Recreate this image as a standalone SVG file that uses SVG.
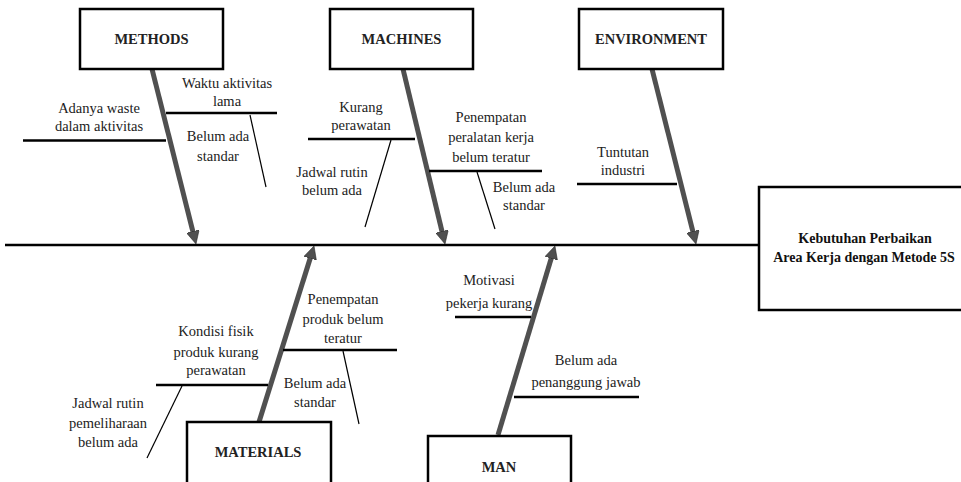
<svg xmlns="http://www.w3.org/2000/svg" width="961" height="482" viewBox="0 0 961 482">
<defs>
<style>
.box{fill:#fff;stroke:#000;stroke-width:2.5}
text{font-family:'Liberation Serif','Times New Roman','DejaVu Serif',serif}
.bt{font-weight:bold;font-size:14.5px;text-anchor:middle;fill:#222}
.lt{font-size:14.5px;text-anchor:middle;fill:#222}
.et{font-weight:bold;font-size:14px;text-anchor:middle;fill:#111}
.br{stroke:#000;stroke-width:2.5;fill:none}
.sb{stroke:#000;stroke-width:1.2;fill:none}
.arr{stroke:#505050;stroke-width:5;fill:none;marker-end:url(#ah)}
</style>
<marker id="ah" viewBox="0 0 10 10" refX="4" refY="5" markerWidth="2.6" markerHeight="2.6" orient="auto" markerUnits="strokeWidth">
<path d="M0,0 L10,5 L0,10 z" fill="#505050" stroke="#222" stroke-width="0.4"/>
</marker>
</defs>
<rect width="961" height="482" fill="#fff"/>
<g id="connectors">
<line x1="5" y1="245" x2="759" y2="245" class="br"/>
<line x1="152" y1="69" x2="194.1" y2="236.4" class="arr"/>
<line x1="403" y1="69" x2="443.2" y2="236.4" class="arr"/>
<line x1="652" y1="69" x2="694.1" y2="236.4" class="arr"/>
<line x1="259" y1="422" x2="311.7" y2="253.4" class="arr"/>
<line x1="498" y1="435" x2="552.7" y2="253.5" class="arr"/>
<line x1="23" y1="140.5" x2="166" y2="140.5" class="br"/>
<line x1="166" y1="113" x2="277" y2="113" class="br"/>
<line x1="250" y1="115" x2="266" y2="187" class="sb"/>
<line x1="308" y1="139" x2="415" y2="139" class="br"/>
<line x1="391" y1="140" x2="365" y2="227" class="sb"/>
<line x1="429" y1="171" x2="542" y2="171" class="br"/>
<line x1="477" y1="172" x2="495" y2="229" class="sb"/>
<line x1="577" y1="184" x2="677" y2="184" class="br"/>
<line x1="156" y1="385" x2="268" y2="385" class="br"/>
<line x1="182" y1="386" x2="147" y2="458" class="sb"/>
<line x1="283" y1="350" x2="397" y2="350" class="br"/>
<line x1="343" y1="351" x2="359" y2="424" class="sb"/>
<line x1="455" y1="317" x2="531" y2="317" class="br"/>
<line x1="514" y1="397" x2="639" y2="397" class="br"/>
</g>
<g id="methods"><rect class="box" x="80" y="9" width="143" height="60"/><text class="bt" x="151.5" y="44">METHODS</text></g>
<g id="machines"><rect class="box" x="330" y="9" width="143" height="60"/><text class="bt" x="401.5" y="44">MACHINES</text></g>
<g id="environment"><rect class="box" x="579" y="9" width="144" height="60"/><text class="bt" x="651" y="44">ENVIRONMENT</text></g>
<g id="materials"><rect class="box" x="187" y="422" width="144" height="70"/><text class="bt" x="258" y="457">MATERIALS</text></g>
<g id="man"><rect class="box" x="428" y="436" width="143" height="56"/><text class="bt" x="499" y="472">MAN</text></g>
<g id="effect"><rect class="box" x="759" y="187" width="220" height="123"/><text class="et" x="865" y="243">Kebutuhan Perbaikan</text><text class="et" x="864" y="262">Area Kerja dengan Metode 5S</text></g>
<g id="labels">
<text class="lt" x="99" y="113">Adanya waste</text>
<text class="lt" x="99" y="131">dalam aktivitas</text>
<text class="lt" x="227" y="88">Waktu aktivitas</text>
<text class="lt" x="227" y="106">lama</text>
<text class="lt" x="218" y="141">Belum ada</text>
<text class="lt" x="218" y="161">standar</text>
<text class="lt" x="361" y="112">Kurang</text>
<text class="lt" x="361" y="130">perawatan</text>
<text class="lt" x="332" y="177">Jadwal rutin</text>
<text class="lt" x="332" y="195">belum ada</text>
<text class="lt" x="491" y="122">Penempatan</text>
<text class="lt" x="491" y="142">peralatan kerja</text>
<text class="lt" x="491" y="162">belum teratur</text>
<text class="lt" x="524" y="192">Belum ada</text>
<text class="lt" x="524" y="210">standar</text>
<text class="lt" x="623" y="157">Tuntutan</text>
<text class="lt" x="623" y="175">industri</text>
<text class="lt" x="216" y="336">Kondisi fisik</text>
<text class="lt" x="216" y="357">produk kurang</text>
<text class="lt" x="216" y="375">perawatan</text>
<text class="lt" x="108" y="408">Jadwal rutin</text>
<text class="lt" x="108" y="428">pemeliharaan</text>
<text class="lt" x="108" y="447">belum ada</text>
<text class="lt" x="343" y="304">Penempatan</text>
<text class="lt" x="343" y="324">produk belum</text>
<text class="lt" x="343" y="343">teratur</text>
<text class="lt" x="315" y="388">Belum ada</text>
<text class="lt" x="315" y="407">standar</text>
<text class="lt" x="489" y="285">Motivasi</text>
<text class="lt" x="489" y="308">pekerja kurang</text>
<text class="lt" x="586" y="365">Belum ada</text>
<text class="lt" x="586" y="387">penanggung jawab</text>
</g>
</svg>
